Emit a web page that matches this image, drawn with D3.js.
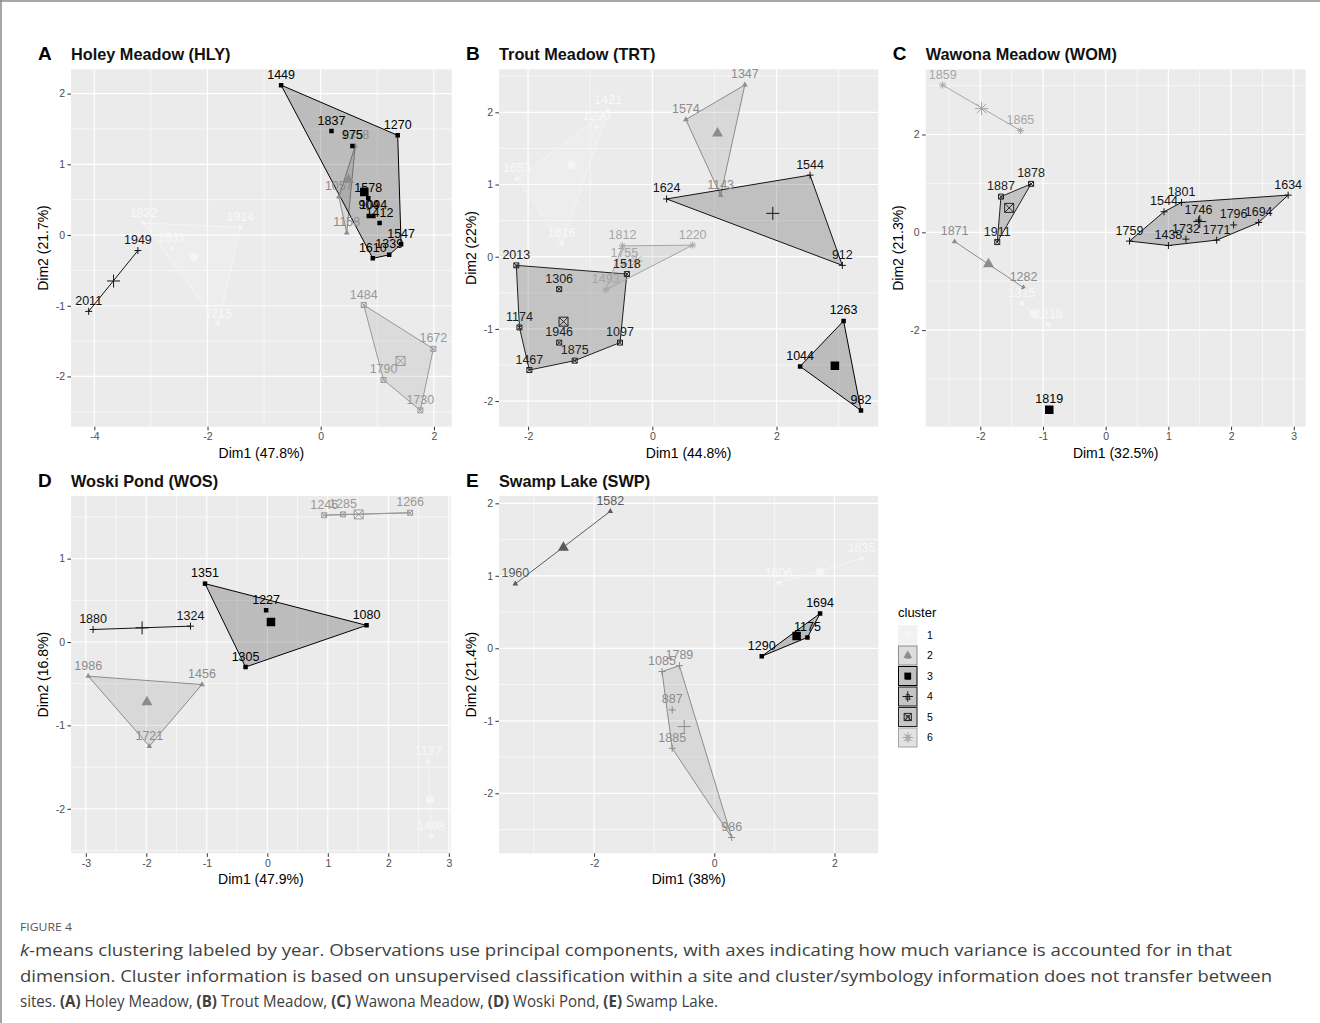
<!DOCTYPE html>
<html><head><meta charset="utf-8">
<script src="https://cdn.jsdelivr.net/npm/d3@7"></script>
<style>
body{margin:0;background:#fff}
svg{display:block}
</style>
</head><body>
<svg id="fig" width="1320" height="1023"></svg>
<script>
// ---------------- DATA ----------------
// Holey Meadow (HLY)
const HLY_year    = ["1832","1914","1531","1715","1358","1057","1158","1449","1837","975","1270","1578","904","1094","1412","1547","1339","1610","1949","2011","1484","1672","1790","1730"];
const HLY_dim1    = [-3.13,-1.42,-2.63,-1.81, 0.61,0.32,0.46, -0.70,0.19,0.56,1.36,0.84,0.85,0.93,1.04,1.42,1.21,0.92, -3.23,-4.10, 0.76,1.99,1.11,1.76];
const HLY_dim2    = [0.17,0.11,-0.19,-1.26, 1.26,0.54,0.03, 2.12,1.47,1.26,1.41,0.52,0.27,0.27,0.17,-0.13,-0.28,-0.33, -0.22,-1.08, -0.99,-1.61,-2.05,-2.48];
const HLY_cluster = [1,1,1,1, 2,2,2, 3,3,3,3,3,3,3,3,3,3,3, 4,4, 5,5,5,5];
const HLY_centerCluster = [1,2,3,4,5];
const HLY_centerDim1    = [-2.24,0.49,0.77,-3.66,1.41];
const HLY_centerDim2    = [-0.31,0.78,0.61,-0.65,-1.78];
const HLY_xDomain = [-4.412,2.314], HLY_yDomain = [-2.711,2.344];
const HLY_xTicks = [-4,-2,0,2], HLY_yTicks = [-2,-1,0,1,2];

// Trout Meadow (TRT)
const TRT_year    = ["1421","1290","1653","1616","1347","1574","1143","1263","1044","982","1624","1544","912","2013","1518","1306","1174","1946","1875","1097","1467","1812","1220","1755","1493"];
const TRT_dim1    = [-0.71,-0.90,-2.18,-1.46, 1.49,0.54,1.10, 3.08,2.38,3.36, 0.23,2.54,3.06, -2.19,-0.41,-1.50,-2.14,-1.50,-1.25,-0.52,-1.98, -0.48,0.65,-0.45,-0.75];
const TRT_dim2    = [2.03,1.80,1.08,0.18, 2.38,1.90,0.85, -0.89,-1.52,-2.13, 0.80,1.13,-0.12, -0.12,-0.24,-0.45,-0.98,-1.19,-1.44,-1.19,-1.57, 0.15,0.16,-0.10,-0.46];
const TRT_cluster = [1,1,1,1, 2,2,2, 3,3,3, 4,4,4, 5,5,5,5,5,5,5,5, 6,6,6,6];
const TRT_centerCluster = [1,2,3,4,5,6];
const TRT_centerDim1    = [-1.30,1.05,2.94,1.94,-1.43,-0.26];
const TRT_centerDim2    = [1.27,1.71,-1.51,0.60,-0.90,-0.06];
const TRT_xDomain = [-2.469,3.639], TRT_yDomain = [-2.355,2.596];
const TRT_xTicks = [-2,0,2], TRT_yTicks = [-2,-1,0,1,2];

// Wawona Meadow (WOM)
const WOM_year    = ["1315","1218","1871","1282","1819","1634","1801","1544","1746","1796","1694","1759","1438","1732","1771","1878","1887","1911","1859","1865"];
const WOM_dim1    = [-1.34,-0.91, -2.41,-1.31, -0.90, 2.91,1.21,0.93,1.48,2.04,2.44,0.38,1.00,1.28,1.77, -1.19,-1.67,-1.73, -2.60,-1.36];
const WOM_dim2    = [-1.45,-1.89, -0.19,-1.13, -3.63, 0.76,0.61,0.42,0.25,0.15,0.20,-0.18,-0.27,-0.14,-0.16, 0.99,0.73,-0.20, 3.01,2.08];
const WOM_cluster = [1,1, 2,2, 3, 4,4,4,4,4,4,4,4,4,4, 5,5,5, 6,6];
const WOM_centerCluster = [1,2,3,4,5,6];
const WOM_centerDim1    = [-1.15,-1.87,-0.90,1.50,-1.54,-1.98];
const WOM_centerDim2    = [-1.66,-0.65,-3.63,0.22,0.50,2.53];
const WOM_xDomain = [-2.871,3.19], WOM_yDomain = [-3.975,3.333];
const WOM_xTicks = [-2,-1,0,1,2,3], WOM_yTicks = [-2,0,2];

// Woski Pond (WOS)
const WOS_year    = ["1137","1498","1986","1456","1721","1351","1227","1080","1305","1880","1324","1246","1285","1266"];
const WOS_dim1    = [2.66,2.71, -2.96,-1.08,-1.95, -1.03,-0.02,1.64,-0.36, -2.88,-1.27, 0.94,1.25,2.36];
const WOS_dim2    = [-1.43,-2.33, -0.41,-0.51,-1.25, 0.70,0.38,0.20,-0.30, 0.15,0.19, 1.52,1.53,1.55];
const WOS_cluster = [1,1, 2,2,2, 3,3,3,3, 4,4, 5,5,5];
const WOS_centerCluster = [1,2,3,4,5];
const WOS_centerDim1    = [2.69,-1.99,0.06,-2.07,1.51];
const WOS_centerDim2    = [-1.89,-0.72,0.24,0.17,1.53];
const WOS_xDomain = [-3.245,3.031], WOS_yDomain = [-2.534,1.751];
const WOS_xTicks = [-3,-2,-1,0,1,2,3], WOS_yTicks = [-2,-1,0,1];

// Swamp Lake (SWP)
const SWP_year    = ["1606","1835","1582","1960","1694","1290","1175","1085","1789","887","1885","986"];
const SWP_dim1    = [1.07,2.45, -1.73,-3.31, 1.76,0.79,1.55, -0.87,-0.58,-0.70,-0.70,0.29];
const SWP_dim2    = [0.90,1.24, 1.89,0.89, 0.48,-0.11,0.15, -0.32,-0.24,-0.85,-1.38,-2.61];
const SWP_cluster = [1,1, 2,2, 3,3,3, 4,4,4,4,4];
const SWP_centerCluster = [1,2,3,4];
const SWP_centerDim1    = [1.76,-2.51,1.37,-0.50];
const SWP_centerDim2    = [1.06,1.39,0.17,-1.08];
const SWP_xDomain = [-3.582,2.729], SWP_yDomain = [-2.828,2.101];
const SWP_xTicks = [-2,0,2], SWP_yTicks = [-2,-1,0,1,2];

const legendClusters = [1,2,3,4,5,6];
const captionFigure = "FIGURE 4";

// ---------------- STYLES ----------------
const FONT = '"Liberation Sans", Arial, Helvetica, sans-serif';
const colA = {1:'#f5f5f5',2:'#8c8c8c',3:'#000000',4:'#141414',5:'#999999'};
const colB = {1:'#f5f5f5',2:'#8c8c8c',3:'#000000',4:'#141414',5:'#222222',6:'#a6a6a6'};
const colE = {1:'#f5f5f5',2:'#5a5a5a',3:'#000000',4:'#8c8c8c'};

const sites = [
  {letter:'A',name:'Holey Meadow (HLY)',box:[71,69.3,380.7,357.4],year:HLY_year,d1:HLY_dim1,d2:HLY_dim2,cl:HLY_cluster,cc:HLY_centerCluster,c1:HLY_centerDim1,c2:HLY_centerDim2,xd:HLY_xDomain,yd:HLY_yDomain,xt:HLY_xTicks,yt:HLY_yTicks,xl:'Dim1 (47.8%)',yl:'Dim2 (21.7%)',col:colA},
  {letter:'B',name:'Trout Meadow (TRT)',box:[499,69.3,379.3,357.4],year:TRT_year,d1:TRT_dim1,d2:TRT_dim2,cl:TRT_cluster,cc:TRT_centerCluster,c1:TRT_centerDim1,c2:TRT_centerDim2,xd:TRT_xDomain,yd:TRT_yDomain,xt:TRT_xTicks,yt:TRT_yTicks,xl:'Dim1 (44.8%)',yl:'Dim2 (22%)',col:colB},
  {letter:'C',name:'Wawona Meadow (WOM)',box:[925.7,69.3,380,357.4],year:WOM_year,d1:WOM_dim1,d2:WOM_dim2,cl:WOM_cluster,cc:WOM_centerCluster,c1:WOM_centerDim1,c2:WOM_centerDim2,xd:WOM_xDomain,yd:WOM_yDomain,xt:WOM_xTicks,yt:WOM_yTicks,xl:'Dim1 (32.5%)',yl:'Dim2 (21.3%)',col:colB},
  {letter:'D',name:'Woski Pond (WOS)',box:[71,496,379.7,357.3],year:WOS_year,d1:WOS_dim1,d2:WOS_dim2,cl:WOS_cluster,cc:WOS_centerCluster,c1:WOS_centerDim1,c2:WOS_centerDim2,xd:WOS_xDomain,yd:WOS_yDomain,xt:WOS_xTicks,yt:WOS_yTicks,xl:'Dim1 (47.9%)',yl:'Dim2 (16.8%)',col:colA},
  {letter:'E',name:'Swamp Lake (SWP)',box:[499,496,379.3,357.3],year:SWP_year,d1:SWP_dim1,d2:SWP_dim2,cl:SWP_cluster,cc:SWP_centerCluster,c1:SWP_centerDim1,c2:SWP_centerDim2,xd:SWP_xDomain,yd:SWP_yDomain,xt:SWP_xTicks,yt:SWP_yTicks,xl:'Dim1 (38%)',yl:'Dim2 (21.4%)',col:colE}
];

const svg = d3.select('#fig');
svg.append('rect').attr('width',1320).attr('height',1023).attr('fill','#fff');
// frame
svg.append('line').attr('x1',0).attr('x2',1320).attr('y1',1).attr('y2',1).attr('stroke','#8a8a8a').attr('stroke-width',1.5);
svg.append('line').attr('x1',1).attr('x2',1).attr('y1',0).attr('y2',1023).attr('stroke','#8a8a8a').attr('stroke-width',1.5);

function shape(k, s){
  const h=s/2, p=d3.path();
  if(k===1){ p.arc(0,0,h,0,2*Math.PI); }
  else if(k===2){ const r=s*0.6; p.moveTo(0,-r); p.lineTo(r*0.866,r*0.5); p.lineTo(-r*0.866,r*0.5); p.closePath(); }
  else if(k===3){ p.rect(-h,-h,s,s); }
  else if(k===4){ p.moveTo(-h,0); p.lineTo(h,0); p.moveTo(0,-h); p.lineTo(0,h); }
  else if(k===5){ p.rect(-h,-h,s,s); p.moveTo(-h,-h); p.lineTo(h,h); p.moveTo(h,-h); p.lineTo(-h,h); }
  else if(k===6){ const d=h*0.72; p.moveTo(-h,0); p.lineTo(h,0); p.moveTo(0,-h); p.lineTo(0,h); p.moveTo(-d,-d); p.lineTo(d,d); p.moveTo(d,-d); p.lineTo(-d,d); }
  return p.toString();
}
const filled = k => k<=3;
const smallSize = {1:4.5,2:5.5,3:4.5,4:7,5:5,6:7};
const bigSize   = {1:8.5,2:10.5,3:8.5,4:13,5:9,6:13};

function drawMarker(g, k, x, y, s, color){
  const el = g.append('path').attr('d', shape(k,s)).attr('transform',`translate(${x},${y})`);
  if(filled(k)) el.attr('fill',color).attr('stroke','none');
  else el.attr('fill','none').attr('stroke',color).attr('stroke-width',1);
}

function minorOf(ticks, dom){
  const step = ticks[1]-ticks[0], out=[];
  for(let v=ticks[0]-step/2; v<=ticks[ticks.length-1]+step; v+=step){ if(v>dom[0]&&v<dom[1]) out.push(v); }
  return out;
}

sites.forEach(s=>{
  const [bx,by,bw,bh]=s.box;
  const x=d3.scaleLinear().domain(s.xd).range([bx,bx+bw]);
  const y=d3.scaleLinear().domain(s.yd).range([by+bh,by]);
  const g=svg.append('g');
  g.append('rect').attr('x',bx).attr('y',by).attr('width',bw).attr('height',bh).attr('fill','#ebebeb');
  // grid
  minorOf(s.xt,s.xd).forEach(v=>g.append('line').attr('x1',x(v)).attr('x2',x(v)).attr('y1',by).attr('y2',by+bh).attr('stroke','#fff').attr('stroke-width',0.6));
  minorOf(s.yt,s.yd).forEach(v=>g.append('line').attr('y1',y(v)).attr('y2',y(v)).attr('x1',bx).attr('x2',bx+bw).attr('stroke','#fff').attr('stroke-width',0.6));
  s.xt.forEach(v=>g.append('line').attr('x1',x(v)).attr('x2',x(v)).attr('y1',by).attr('y2',by+bh).attr('stroke','#fff').attr('stroke-width',1.2));
  s.yt.forEach(v=>g.append('line').attr('y1',y(v)).attr('y2',y(v)).attr('x1',bx).attr('x2',bx+bw).attr('stroke','#fff').attr('stroke-width',1.2));
  // axes
  const ax=g.append('g').attr('transform',`translate(0,${by+bh})`).call(d3.axisBottom(x).tickValues(s.xt).tickFormat(d=>String(d)).tickSize(3.6).tickSizeOuter(0).tickPadding(2.6));
  const ay=g.append('g').attr('transform',`translate(${bx},0)`).call(d3.axisLeft(y).tickValues(s.yt).tickFormat(d=>String(d)).tickSize(3.6).tickSizeOuter(0).tickPadding(2.4));
  [ax,ay].forEach(a=>{
    a.select('.domain').remove();
    a.selectAll('line').attr('stroke','#333').attr('stroke-width',1);
    a.selectAll('text').attr('fill','#4d4d4d').attr('font-size','10.5px').attr('font-family',FONT);
  });
  // axis titles
  g.append('text').attr('x',bx+bw/2).attr('y',by+bh+31).attr('text-anchor','middle').attr('font-family',FONT).attr('font-size','14px').attr('fill','#000').text(s.xl);
  g.append('text').attr('transform',`translate(${bx-23},${by+bh/2}) rotate(-90)`).attr('text-anchor','middle').attr('font-family',FONT).attr('font-size','14px').attr('fill','#000').text(s.yl);
  // panel titles
  g.append('text').attr('x',bx-33).attr('y',by-9).attr('font-family',FONT).attr('font-weight','bold').attr('font-size','19px').attr('fill','#000').text(s.letter);
  g.append('text').attr('x',bx).attr('y',by-9.5).attr('font-family',FONT).attr('font-weight','bold').attr('font-size','16.3px').attr('fill','#111').text(s.name);

  const clip = 'clip'+s.letter;
  g.append('clipPath').attr('id',clip).append('rect').attr('x',bx).attr('y',by).attr('width',bw).attr('height',bh);
  const pg=g.append('g').attr('clip-path',`url(#${clip})`);

  const idx = d3.range(s.year.length);
  const clusters = Array.from(new Set(s.cl)).sort((a,b)=>a-b);
  // hulls
  clusters.forEach(c=>{
    const pts = idx.filter(i=>s.cl[i]===c).map(i=>[x(s.d1[i]),y(s.d2[i])]);
    const color=s.col[c];
    if(pts.length>=3){
      const hull=d3.polygonHull(pts);
      pg.append('path').attr('d','M'+hull.map(p=>p.join(',')).join('L')+'Z')
        .attr('fill',color).attr('fill-opacity',0.2).attr('stroke',color).attr('stroke-width',1);
    } else if(pts.length===2){
      pg.append('line').attr('x1',pts[0][0]).attr('y1',pts[0][1]).attr('x2',pts[1][0]).attr('y2',pts[1][1]).attr('stroke',color).attr('stroke-width',1);
    }
  });
  // points
  clusters.forEach(c=>{
    idx.filter(i=>s.cl[i]===c).forEach(i=>drawMarker(pg,c,x(s.d1[i]),y(s.d2[i]),smallSize[c],s.col[c]));
  });
  // centers
  s.cc.forEach((c,j)=>drawMarker(pg,c,x(s.c1[j]),y(s.c2[j]),bigSize[c],s.col[c]));
  // labels
  clusters.forEach(c=>{
    idx.filter(i=>s.cl[i]===c).forEach(i=>{
      g.append('text').attr('x',x(s.d1[i])).attr('y',y(s.d2[i])-6.5).attr('text-anchor','middle')
        .attr('font-family',FONT).attr('font-size','12.5px').attr('fill', c===1?'#f8f8f8':s.col[c]).text(s.year[i]);
    });
  });
});

// legend
const lg=svg.append('g');
lg.append('text').attr('x',898).attr('y',617).attr('font-family',FONT).attr('font-size','13px').attr('fill','#000').text('cluster');
legendClusters.forEach((c,i)=>{
  const ky=625+i*20.5, kx=898, kw=19.5, kh=20;
  const color=colB[c];
  lg.append('rect').attr('x',kx).attr('y',ky).attr('width',kw).attr('height',kh).attr('fill','#f2f2f2');
  lg.append('rect').attr('x',kx+0.5).attr('y',ky+0.5).attr('width',kw-1).attr('height',kh-1).attr('fill',color).attr('fill-opacity',0.2).attr('stroke',color).attr('stroke-width',1);
  lg.append('text').attr('x',kx+kw/2).attr('y',ky+kh/2+3.5).attr('text-anchor','middle').attr('font-family',FONT).attr('font-size','10px').attr('fill',color).text('a');
  drawMarker(lg,c,kx+kw/2,ky+kh/2,bigSize[c]*0.8,color);
  lg.append('text').attr('x',927).attr('y',ky+kh/2+3.7).attr('font-family',FONT).attr('font-size','10.5px').attr('fill','#000').text(String(c));
});

// caption
const CF='"Open Sans", "Noto Sans", sans-serif';
svg.append('text').attr('x',20).attr('y',931).attr('font-family',CF).attr('font-size','11.5px').attr('fill','#555')
  .attr('textLength',52).attr('lengthAdjust','spacingAndGlyphs').text(captionFigure);
const l1=svg.append('text').attr('x',20).attr('y',956).attr('font-family',CF).attr('font-size','16px').attr('fill','#404040').attr('textLength',1212).attr('lengthAdjust','spacingAndGlyphs');
l1.append('tspan').attr('font-style','italic').text('k');
l1.append('tspan').text('-means clustering labeled by year. Observations use principal components, with axes indicating how much variance is accounted for in that');
svg.append('text').attr('x',20).attr('y',981.5).attr('font-family',CF).attr('font-size','16px').attr('fill','#404040').attr('textLength',1252).attr('lengthAdjust','spacingAndGlyphs')
  .text('dimension. Cluster information is based on unsupervised classification within a site and cluster/symbology information does not transfer between');
const l3=svg.append('text').attr('x',20).attr('y',1007).attr('font-family',CF).attr('font-size','16px').attr('fill','#404040').attr('textLength',698).attr('lengthAdjust','spacingAndGlyphs');
[['sites. ',0],['(A)',1],[' Holey Meadow, ',0],['(B)',1],[' Trout Meadow, ',0],['(C)',1],[' Wawona Meadow, ',0],['(D)',1],[' Woski Pond, ',0],['(E)',1],[' Swamp Lake.',0]]
  .forEach(([t,b])=>l3.append('tspan').attr('font-weight',b?'bold':'normal').text(t));
</script>
</body></html>
